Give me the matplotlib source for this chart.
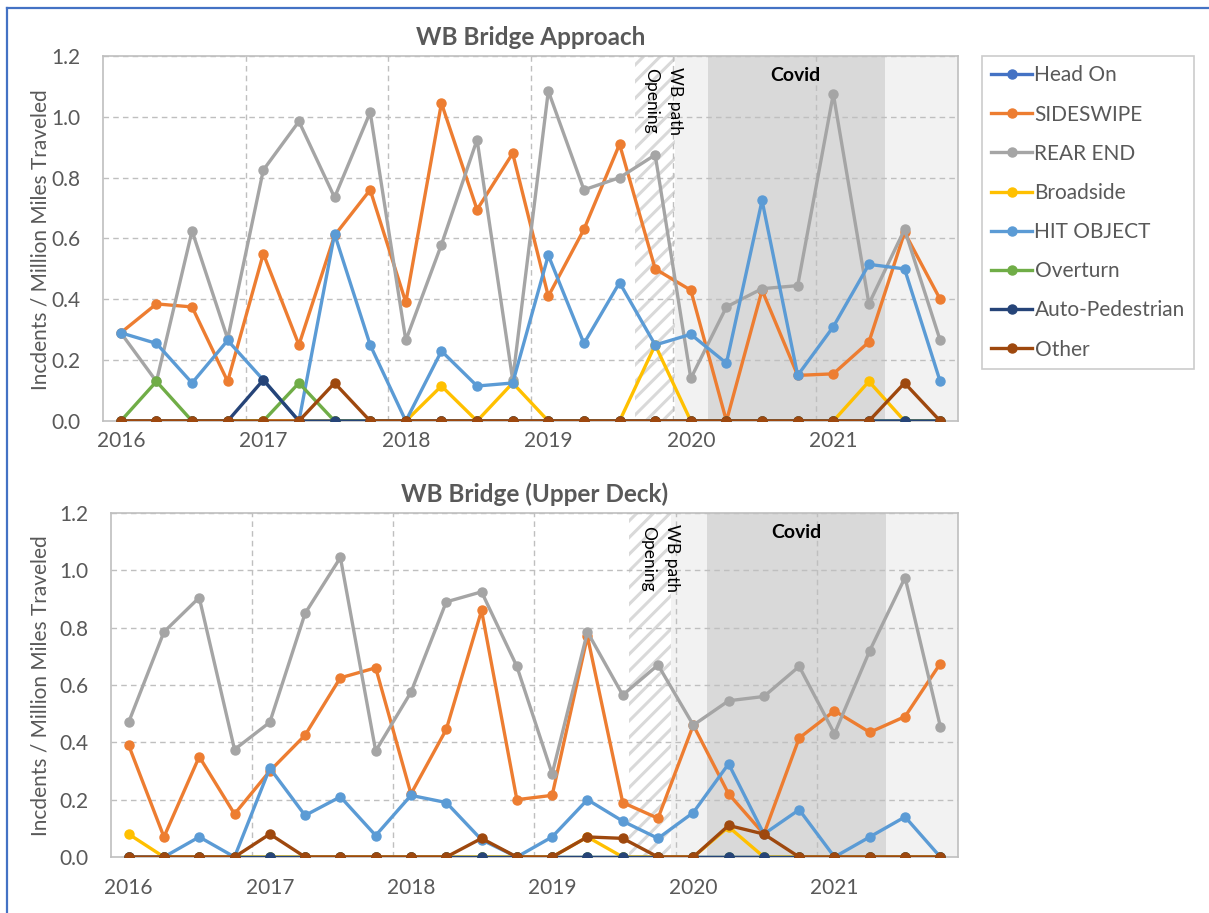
import numpy as np
import matplotlib.pyplot as plt
from matplotlib.lines import Line2D

plt.rcParams['font.family'] = ['Lato', 'DejaVu Sans']
plt.rcParams['hatch.linewidth'] = 2.2

# quarterly data, 2016 Q1 .. 2021 Q4
quarters = [f"{y} Q{q}" for y in range(2016, 2022) for q in range(1, 5)]
year_labels = ['2016', '2017', '2018', '2019', '2020', '2021']

series_names = ['Head On', 'SIDESWIPE', 'REAR END', 'Broadside', 'HIT OBJECT',
                'Overturn', 'Auto-Pedestrian', 'Other']
series_colors = ['#4472C4', '#ED7D31', '#A5A5A5', '#FFC000', '#5B9BD5',
                 '#70AD47', '#264478', '#9E480E']

# --- WB Bridge Approach ---
head_on_appr = [0, 0, 0, 0, 0, 0, 0, 0, 0, 0, 0, 0,
                0, 0, 0, 0, 0, 0, 0, 0, 0, 0, 0, 0]
sideswipe_appr = [0.29, 0.385, 0.375, 0.13, 0.55, 0.25, 0.61, 0.76, 0.39, 1.045, 0.695, 0.88,
                  0.41, 0.63, 0.91, 0.50, 0.43, 0.0, 0.43, 0.15, 0.155, 0.26, 0.62, 0.40]
rear_end_appr = [0.29, 0.13, 0.625, 0.27, 0.825, 0.985, 0.735, 1.015, 0.265, 0.58, 0.925, 0.135,
                 1.085, 0.76, 0.80, 0.875, 0.14, 0.375, 0.435, 0.445, 1.075, 0.385, 0.63, 0.265]
broadside_appr = [0, 0, 0, 0, 0, 0, 0, 0, 0, 0.115, 0, 0.125,
                  0, 0, 0, 0.25, 0, 0, 0, 0, 0, 0.13, 0, 0]
hit_object_appr = [0.29, 0.255, 0.125, 0.265, 0.135, 0.0, 0.615, 0.25, 0.0, 0.23, 0.115, 0.125,
                   0.545, 0.255, 0.455, 0.25, 0.285, 0.19, 0.725, 0.15, 0.31, 0.515, 0.50, 0.13]
overturn_appr = [0, 0.13, 0, 0, 0, 0.125, 0, 0, 0, 0, 0, 0,
                 0, 0, 0, 0, 0, 0, 0, 0, 0, 0, 0, 0]
auto_ped_appr = [0, 0, 0, 0, 0.135, 0, 0, 0, 0, 0, 0, 0,
                 0, 0, 0, 0, 0, 0, 0, 0, 0, 0, 0, 0]
other_appr = [0, 0, 0, 0, 0, 0, 0.125, 0, 0, 0, 0, 0,
              0, 0, 0, 0, 0, 0, 0, 0, 0, 0, 0.125, 0]

# --- WB Bridge (Upper Deck) ---
head_on_upper = [0, 0, 0, 0, 0, 0, 0, 0, 0, 0, 0, 0,
                 0, 0, 0, 0, 0, 0, 0, 0, 0, 0, 0, 0]
sideswipe_upper = [0.39, 0.07, 0.35, 0.15, 0.30, 0.425, 0.625, 0.66, 0.22, 0.445, 0.86, 0.20,
                   0.215, 0.77, 0.19, 0.135, 0.46, 0.22, 0.08, 0.415, 0.51, 0.435, 0.49, 0.675]
rear_end_upper = [0.47, 0.785, 0.905, 0.375, 0.47, 0.85, 1.045, 0.37, 0.575, 0.89, 0.925, 0.665,
                  0.29, 0.785, 0.565, 0.67, 0.46, 0.545, 0.56, 0.665, 0.43, 0.72, 0.975, 0.455]
broadside_upper = [0.08, 0, 0, 0, 0, 0, 0, 0, 0, 0, 0, 0,
                   0, 0.07, 0, 0, 0, 0.105, 0, 0, 0, 0, 0, 0]
hit_object_upper = [0.0, 0.0, 0.07, 0.0, 0.31, 0.145, 0.21, 0.075, 0.215, 0.19, 0.06, 0.0,
                    0.07, 0.20, 0.125, 0.065, 0.155, 0.325, 0.08, 0.165, 0.0, 0.07, 0.14, 0.0]
overturn_upper = [0, 0, 0, 0, 0, 0, 0, 0, 0, 0, 0, 0,
                  0, 0, 0, 0, 0, 0, 0, 0, 0, 0, 0, 0]
auto_ped_upper = [0, 0, 0, 0, 0, 0, 0, 0, 0, 0, 0, 0,
                  0, 0, 0, 0, 0, 0, 0, 0, 0, 0, 0, 0]
other_upper = [0, 0, 0, 0, 0.08, 0, 0, 0, 0, 0, 0.065, 0,
               0, 0.07, 0.065, 0, 0, 0.11, 0.08, 0, 0, 0, 0, 0]

approach = [head_on_appr, sideswipe_appr, rear_end_appr, broadside_appr,
            hit_object_appr, overturn_appr, auto_ped_appr, other_appr]
upper = [head_on_upper, sideswipe_upper, rear_end_upper, broadside_upper,
         hit_object_upper, overturn_upper, auto_ped_upper, other_upper]

# shaded periods, in quarter-index units (hatch, light, covid, light)
spans_appr = [(14.42, 15.57), (15.57, 16.49), (16.49, 21.46), (21.46, 23.5)]
spans_upper = [(14.18, 15.37), (15.37, 16.39), (16.39, 21.47), (21.47, 23.5)]

TXT = '#595959'
GRID = '#BFBFBF'

fig = plt.figure(figsize=(12.09, 9.13), dpi=100)
ax1 = fig.add_axes([103 / 1209, 1 - 421 / 913, 855 / 1209, 365 / 913])
ax2 = fig.add_axes([111 / 1209, 1 - 857 / 913, 847 / 1209, 344 / 913])


def draw(ax, data, spans, title, opening_xy, covid_xy, xpad):
    x = np.arange(len(quarters))
    (h0, h1), (l0, l1), (c0, c1), (m0, m1) = spans
    ax.axvspan(h0, h1, facecolor='white', edgecolor='#D9D9D9', hatch='//', lw=0, zorder=0)
    ax.axvspan(l0, l1, color='#F2F2F2', lw=0, zorder=0)
    ax.axvspan(c0, c1, color='#D9D9D9', lw=0, zorder=0)
    ax.axvspan(m0, m1, color='#F2F2F2', lw=0, zorder=0)

    for vals, name, col in zip(data, series_names, series_colors):
        ax.plot(x, vals, color=col, lw=2.4, marker='o', ms=6.5, label=name,
                solid_joinstyle='round', zorder=3)

    ax.set_xlim(-0.5, 23.5)
    ax.set_ylim(0, 1.2)
    ax.set_yticks(np.arange(0, 1.21, 0.2))
    ax.set_yticklabels([f"{v:.1f}" for v in np.arange(0, 1.21, 0.2)])
    ax.set_xticks(np.arange(0, 24, 4))
    ax.set_xticklabels(year_labels)
    ax.tick_params(length=0, labelsize=15, colors=TXT)
    ax.tick_params(axis='x', pad=xpad)
    ax.tick_params(axis='y', pad=16)
    for v in np.arange(0.2, 1.21, 0.2):
        ax.axhline(v, color=GRID, lw=1, ls=(0, (4, 3)), zorder=1)
    for v in np.arange(3.5, 20, 4):
        ax.axvline(v, color=GRID, lw=1, ls=(0, (4, 3)), zorder=1)
    for s in ax.spines.values():
        s.set_color(GRID)
        s.set_linewidth(1.2)
    ax.set_title(title, fontsize=17.5, fontweight='bold', color=TXT, pad=8)
    ax.text(opening_xy[0], opening_xy[1], 'WB path\nOpening', rotation=270,
            ha='center', va='top', fontsize=12.5, linespacing=1.6, zorder=2)
    ax.text(covid_xy[0], covid_xy[1], 'Covid', fontsize=14, fontweight='bold',
            ha='center', va='top', zorder=2)


draw(ax1, approach, spans_appr, 'WB Bridge Approach', (15.22, 1.165), (18.93, 1.165), 7)
draw(ax2, upper, spans_upper, 'WB Bridge (Upper Deck)', (15.07, 1.16), (18.92, 1.16), 15)

fig.text(41 / 1209, 1 - 240 / 913, 'Incdents / Million Miles Traveled', rotation=90,
         ha='center', va='center', fontsize=15, color=TXT)
fig.text(41 / 1209, 1 - 686 / 913, 'Incdents / Million Miles Traveled', rotation=90,
         ha='center', va='center', fontsize=15, color=TXT)

handles, labels = ax1.get_legend_handles_labels()
leg = fig.legend(handles, labels, loc='upper left', bbox_to_anchor=(982 / 1209, 1 - 56 / 913),
                 borderaxespad=0, fontsize=15, frameon=True, fancybox=False,
                 edgecolor=GRID, handlelength=1.95, handletextpad=0.12,
                 labelspacing=0.92, borderpad=0.45)
leg.get_frame().set_linewidth(1.2)
for t in leg.get_texts():
    t.set_color(TXT)

# outer frame (left and top edges)
fig.add_artist(Line2D([7 / 1209, 7 / 1209], [0, 1 - 8 / 913], transform=fig.transFigure,
                      color='#4472C4', lw=1.6))
fig.add_artist(Line2D([7 / 1209, 1], [1 - 8 / 913, 1 - 8 / 913], transform=fig.transFigure,
                      color='#4472C4', lw=1.6))

fig.savefig('out.png', dpi=100)
